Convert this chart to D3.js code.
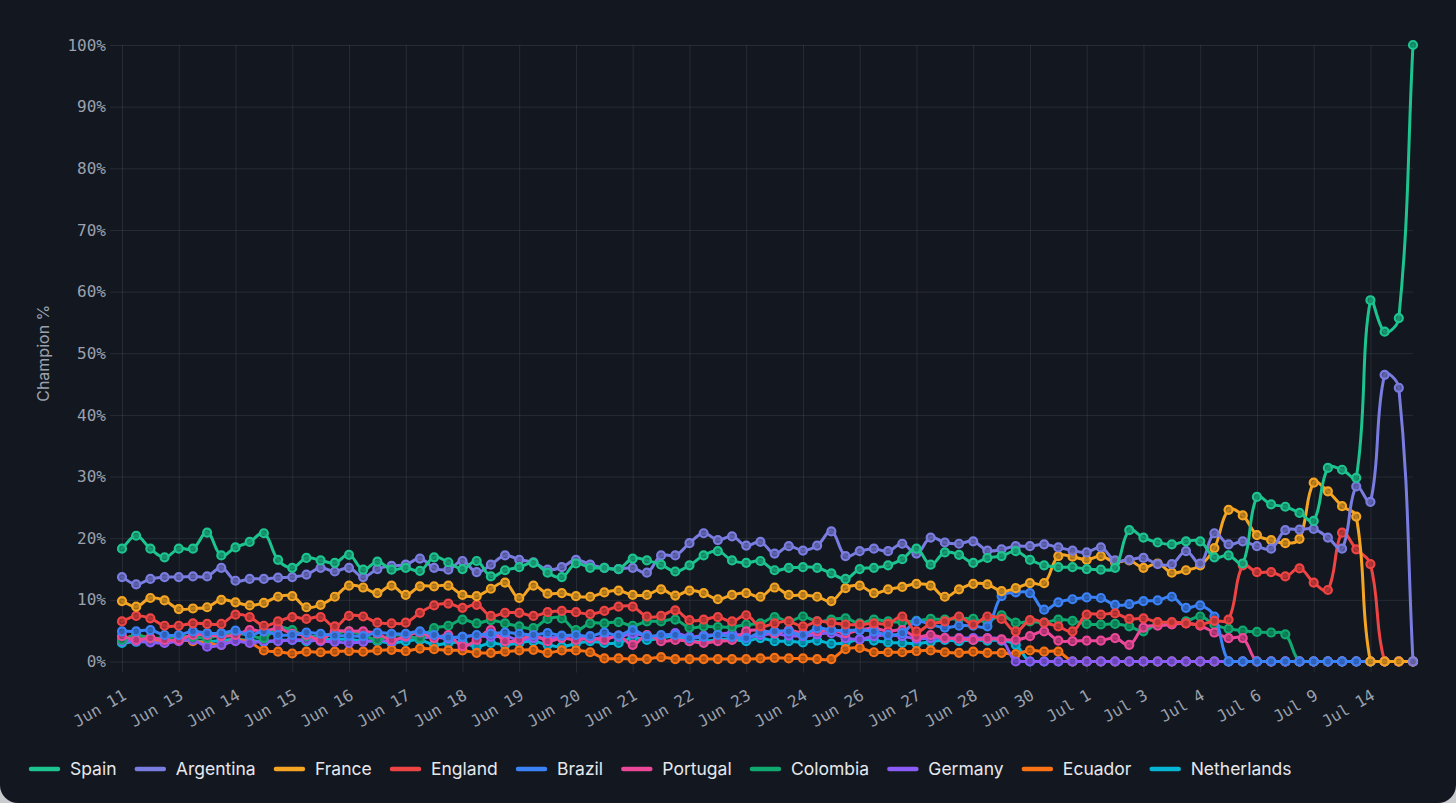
<!DOCTYPE html>
<html>
<head>
<meta charset="utf-8">
<script src="https://cdn.jsdelivr.net/npm/d3@7"></script>
<style>
  html, body { margin: 0; padding: 0; background: #c9cacd; }
  #panel { position: absolute; left: 0; top: 0; width: 1456px; height: 803px;
           background: #131720; border-radius: 0 0 18px 18px; overflow: hidden; }
  svg { display: block; }
</style>
</head>
<body>
<div id="panel"></div>
<script>
// ---------- data ----------
const tickLabels = ["Jun 11","Jun 13","Jun 14","Jun 15","Jun 16","Jun 17","Jun 18","Jun 19","Jun 20","Jun 21","Jun 22","Jun 23","Jun 24","Jun 26","Jun 27","Jun 28","Jun 30","Jul 1","Jul 3","Jul 4","Jul 6","Jul 9","Jul 14"];
const labelStep = 4; // a label every 4th snapshot
const yTicks = [0,10,20,30,40,50,60,70,80,90,100];

const spain = [18.3,20.4,18.3,16.9,18.3,18.3,20.9,17.2,18.5,19.4,
  20.8,16.5,15.2,16.8,16.4,16.0,17.3,14.9,16.2,14.9,
  15.2,14.7,16.9,16.1,15.0,16.3,13.8,14.8,15.3,16.0,
  14.4,13.7,15.9,15.2,15.2,15.0,16.7,16.4,15.7,14.6,
  15.6,17.2,17.9,16.4,16.0,16.3,14.8,15.2,15.3,15.2,
  14.3,13.4,15.0,15.2,15.6,16.6,18.3,15.7,17.7,17.3,
  16.0,16.8,17.1,17.9,16.5,15.6,15.3,15.3,15.0,14.9,
  15.2,21.3,20.1,19.3,19.0,19.5,19.5,16.9,17.2,15.9,
  26.7,25.5,25.1,24.1,22.8,31.4,31.1,29.8,58.6,53.5,
  55.7,100];
const argentina = [13.7,12.5,13.4,13.7,13.7,13.8,13.8,15.2,13.1,13.4,
  13.4,13.6,13.7,14.1,15.2,14.6,15.2,13.7,15.0,15.5,
  15.7,16.7,15.2,14.9,16.3,14.5,15.7,17.2,16.5,16.1,
  14.9,15.3,16.5,15.7,15.2,15.0,15.2,14.4,17.2,17.2,
  19.2,20.8,19.7,20.3,18.8,19.4,17.5,18.7,18.0,18.8,
  21.1,17.1,17.9,18.3,17.9,19.1,17.5,20.1,19.3,19.1,
  19.5,18.0,18.2,18.7,18.7,19.0,18.5,18.0,17.7,18.5,
  16.4,16.5,16.8,15.8,15.8,17.9,15.9,20.8,19.0,19.5,
  18.7,18.3,21.3,21.4,21.5,20.1,18.3,28.4,25.9,46.5,
  44.4,0];
const france = [9.8,8.9,10.3,9.9,8.5,8.6,8.8,10.0,9.6,9.1,
  9.5,10.5,10.6,8.8,9.2,10.5,12.3,12.0,11.1,12.3,
  10.8,12.2,12.2,12.3,10.8,10.6,11.8,12.8,10.3,12.3,
  11.0,11.1,10.6,10.5,11.2,11.5,10.8,10.8,11.7,10.7,
  11.5,11.1,10.1,10.8,11.1,10.5,12.0,10.8,10.8,10.5,
  9.8,11.9,12.3,11.1,11.7,12.1,12.6,12.3,10.5,11.7,
  12.6,12.5,11.4,11.9,12.7,12.7,17.1,17.0,16.5,17.1,
  16.1,16.4,15.2,15.9,14.4,14.8,15.6,18.4,24.6,23.7,
  20.5,19.7,19.2,19.9,29.0,27.6,25.2,23.5,0,0,
  0,0];
const england = [6.5,7.4,7.0,5.8,5.8,6.2,6.1,6.1,7.6,7.2,
  5.8,6.5,7.2,6.9,7.2,5.7,7.4,7.3,6.3,6.2,
  6.3,7.9,9.1,9.4,8.7,9.2,7.4,7.9,7.9,7.4,
  8.0,8.2,8.0,7.7,8.2,8.9,8.9,7.3,7.4,8.3,
  6.7,6.8,7.2,6.5,7.5,5.7,6.2,6.5,5.7,6.5,
  6.3,6.0,6.0,6.2,6.1,7.3,4.9,6.1,6.5,7.3,
  6.0,7.3,6.9,4.9,6.7,6.3,5.7,4.9,7.6,7.6,
  7.8,6.9,7.0,6.4,6.4,6.2,6.0,6.6,6.8,15.6,
  14.5,14.5,13.8,15.1,12.8,11.6,20.9,18.2,15.8,0,
  0,0];
const brazil = [4.9,4.9,5.1,4.3,4.3,4.9,4.6,4.6,5.0,4.3,
  4.9,4.3,4.3,4.7,4.5,4.2,4.2,4.1,4.7,4.5,
  4.5,4.9,4.3,3.9,4.0,4.3,4.5,4.7,4.5,4.3,
  4.6,4.2,4.3,4.1,4.7,4.2,5.1,4.1,4.3,4.3,
  3.8,4.0,4.3,4.0,3.8,4.7,4.9,4.9,4.3,5.4,
  5.1,5.0,5.1,4.9,4.3,4.6,6.5,6.0,5.5,5.8,
  5.8,5.7,10.6,11.2,11.1,8.4,9.6,10.1,10.4,10.3,
  9.2,9.3,9.8,9.9,10.5,8.7,9.1,7.3,0,0,
  0,0,0,0,0,0,0,0,0,0,
  0,0];
const portugal = [4.1,3.5,3.8,3.5,3.5,4.3,4.3,4.1,4.3,5.1,
  4.9,5.4,4.5,4.3,3.5,4.9,4.9,4.9,4.5,3.5,
  4.1,4.7,3.8,4.3,2.5,3.5,5.1,3.3,3.5,4.3,
  3.3,3.8,3.5,3.8,3.5,4.2,2.7,4.3,3.3,3.5,
  3.3,3.0,3.3,3.5,4.9,5.1,4.6,5.1,4.6,4.9,
  5.1,4.6,5.1,5.4,4.9,5.1,4.0,4.3,3.8,3.7,
  3.5,3.7,3.6,3.5,4.1,4.9,3.4,3.3,3.4,3.4,
  3.8,2.7,5.5,5.8,6.0,6.2,5.8,4.7,3.8,3.8,
  0,0,0,0,0,0,0,0,0,0,
  0,0];
const colombia = [3.5,4.2,3.8,3.8,4.1,4.0,3.8,4.3,4.5,4.3,
  3.8,5.5,5.1,4.1,4.2,4.5,4.9,4.3,3.5,4.3,
  4.2,3.8,5.4,5.8,6.8,6.2,6.7,6.2,5.7,5.4,
  6.9,7.0,5.1,6.2,6.2,6.4,5.8,6.5,6.5,6.8,
  5.5,5.7,5.6,5.6,6.0,6.2,7.2,6.5,7.3,6.5,
  6.8,7.0,6.2,6.8,6.5,6.4,6.6,6.9,6.8,7.0,
  6.9,6.5,7.5,6.3,6.5,6.3,6.8,6.6,6.1,6.0,
  6.1,5.7,4.9,6.1,6.2,6.5,7.3,6.0,5.3,5.0,
  4.8,4.7,4.4,0,0,0,0,0,0,0,
  0,0];
const germany = [3.3,3.3,3.1,3.0,3.3,3.5,2.4,2.7,3.3,3.0,
  3.3,3.3,3.5,3.5,3.3,3.2,3.0,3.2,3.5,3.3,
  4.0,3.8,4.0,3.7,4.0,4.2,4.0,4.1,3.5,3.8,
  3.8,4.0,4.2,3.7,3.9,4.0,4.5,4.2,4.0,4.6,
  4.0,4.2,4.4,4.6,4.0,4.3,4.5,4.2,4.1,4.4,
  4.6,3.8,3.6,4.1,4.3,4.1,3.7,3.8,3.8,3.8,
  3.8,3.8,3.5,0,0,0,0,0,0,0,
  0,0,0,0,0,0,0,0,0,0,
  0,0,0,0,0,0,0,0,0,0,
  0,0];
const ecuador = [3.6,4.2,3.8,3.1,3.5,3.3,3.0,2.7,3.5,3.1,
  1.8,1.6,1.3,1.6,1.5,1.6,1.7,1.6,1.8,1.9,
  1.7,2.1,2.0,1.8,1.8,1.4,1.4,1.6,1.8,1.9,
  1.4,1.8,1.8,1.5,0.5,0.5,0.4,0.4,0.7,0.4,
  0.4,0.4,0.4,0.4,0.4,0.5,0.6,0.5,0.5,0.4,
  0.4,2.0,2.2,1.5,1.5,1.5,1.7,1.8,1.5,1.4,
  1.6,1.4,1.4,1.2,1.8,1.6,1.6,0,0,0,
  0,0,0,0,0,0,0,0,0,0,
  0,0,0,0,0,0,0,0,0,0,
  0,0];
const netherlands = [3.0,3.2,3.2,3.4,3.5,3.4,3.2,3.4,3.6,3.4,
  3.2,3.4,3.5,3.3,3.5,3.6,3.6,3.3,3.3,3.0,
  3.3,3.5,2.7,3.0,3.1,2.4,3.0,2.7,3.0,3.3,
  2.7,2.4,2.9,3.3,3.0,3.0,3.9,3.5,3.8,4.1,
  3.3,3.3,3.5,3.6,3.3,3.8,3.3,3.3,3.1,3.4,
  2.9,3.0,3.6,3.4,3.1,3.0,2.9,3.2,3.5,3.3,
  3.5,3.4,3.4,2.7,0,0,0,0,0,0,
  0,0,0,0,0,0,0,0,0,0,
  0,0,0,0,0,0,0,0,0,0,
  0,0];

const teams  = ["Spain","Argentina","France","England","Brazil","Portugal","Colombia","Germany","Ecuador","Netherlands"];
const colors = ["#1dc490","#7a7de0","#f5a524","#ef4444","#3b82f6","#ec4899","#10a970","#8b5cf6","#f97316","#06b6d4"];
const values = [spain,argentina,france,england,brazil,portugal,colombia,germany,ecuador,netherlands];

// ---------- layout ----------
const W = 1456, H = 803;
const L = 122, R = 1413, T = 45, B = 661.5;
const svg = d3.select("#panel").append("svg").attr("width", W).attr("height", H);

const snapshots = spain.map((_, i) => i);
const x = d3.scalePoint().domain(snapshots).range([L, R]);
const y = d3.scaleLinear().domain([0, 100]).range([B, T]);

const monoFont = "'DejaVu Sans Mono', 'Liberation Mono', monospace";
const sansFont = "Inter, 'Noto Sans', sans-serif";
const gridColor = "rgba(255,255,255,0.085)";
const tickColor = "#9ba1ad";

// horizontal grid + y labels
const yAxis = d3.axisLeft(y).tickValues(yTicks).tickSize(-(R - L + 12)).tickFormat(d => d + "%").tickPadding(16);
const gy = svg.append("g").attr("transform", `translate(${L - 12},0)`).call(yAxis);
gy.select(".domain").remove();
gy.selectAll(".tick line").attr("stroke", gridColor).attr("stroke-width", 1);
gy.selectAll(".tick text").attr("fill", tickColor).attr("font-family", monoFont).attr("font-size", 16).attr("x", -4);

// vertical grid + x labels
const tickIdx = tickLabels.map((_, k) => snapshots[k * labelStep]);
const xAxis = d3.axisBottom(x).tickValues(tickIdx).tickSize(-(B - T + 11)).tickFormat((d, k) => tickLabels[k]);
const gx = svg.append("g").attr("transform", `translate(0,${B + 11})`).call(xAxis);
gx.select(".domain").remove();
gx.selectAll(".tick line").attr("stroke", gridColor).attr("stroke-width", 1);
gx.selectAll(".tick text")
  .attr("fill", tickColor).attr("font-family", monoFont).attr("font-size", 16)
  .attr("text-anchor", "end").attr("dy", null).attr("y", 0)
  .attr("transform", "translate(5,26) rotate(-30)");

// y axis title
svg.append("text")
  .attr("transform", `translate(49,${(T + B) / 2}) rotate(-90)`)
  .attr("text-anchor", "middle")
  .attr("fill", tickColor).attr("font-family", sansFont).attr("font-size", 16)
  .text("Champion %");

// Chart.js-like tension spline curve (tension 0.4, control points capped to the plot area)
function makeSplineCurve(tension, yTop, yBottom) {
  function Curve(context) { this._context = context; }
  Curve.prototype = {
    areaStart() {}, areaEnd() {},
    lineStart() { this._pts = []; },
    point(px, py) { this._pts.push([+px, +py]); },
    lineEnd() {
      const p = this._pts, n = p.length, ctx = this._context;
      if (!n) return;
      const cap = v => Math.max(yTop, Math.min(yBottom, v));
      const cps = p.map((cur, i) => {
        const prev = p[i - 1] || cur, next = p[i + 1] || cur;
        const d01 = Math.hypot(cur[0] - prev[0], cur[1] - prev[1]);
        const d12 = Math.hypot(next[0] - cur[0], next[1] - cur[1]);
        let s01 = d01 / (d01 + d12), s12 = d12 / (d01 + d12);
        if (!isFinite(s01)) s01 = 0;
        if (!isFinite(s12)) s12 = 0;
        const fa = tension * s01, fb = tension * s12;
        return {
          px: cur[0] - fa * (next[0] - prev[0]), py: cap(cur[1] - fa * (next[1] - prev[1])),
          nx: cur[0] + fb * (next[0] - prev[0]), ny: cap(cur[1] + fb * (next[1] - prev[1]))
        };
      });
      ctx.moveTo(p[0][0], p[0][1]);
      for (let i = 1; i < n; i++) {
        ctx.bezierCurveTo(cps[i - 1].nx, cps[i - 1].ny, cps[i].px, cps[i].py, p[i][0], p[i][1]);
      }
    }
  };
  return ctx => new Curve(ctx);
}
const curve = makeSplineCurve(0.4, T, B);
const line = d3.line().x((d, i) => x(i)).y(d => y(d)).curve(curve);

// draw series, first dataset on top
const plot = svg.append("g");
for (let s = teams.length - 1; s >= 0; s--) {
  const g = plot.append("g");
  g.append("path").datum(values[s])
    .attr("d", line).attr("fill", "none")
    .attr("stroke", colors[s]).attr("stroke-width", 3)
    .attr("stroke-linejoin", "round").attr("stroke-linecap", "round");
  g.selectAll("circle").data(values[s]).join("circle")
    .attr("cx", (d, i) => x(i)).attr("cy", d => y(d)).attr("r", 4)
    .attr("fill", d3.color(colors[s]).darker(0.9)).attr("fill-opacity", 0.85)
    .attr("stroke", colors[s]).attr("stroke-width", 2.2);
}

// legend
const legend = svg.append("g").attr("transform", "translate(29,769)");
let lx = 0;
teams.forEach((t, i) => {
  const item = legend.append("g").attr("transform", `translate(${lx},0)`);
  item.append("line").attr("x1", 2).attr("x2", 29).attr("y1", 0).attr("y2", 0)
    .attr("stroke", colors[i]).attr("stroke-width", 4.5).attr("stroke-linecap", "round");
  const txt = item.append("text").attr("x", 41).attr("y", 0).attr("dy", "0.35em")
    .attr("fill", "#e6e8ec").attr("font-family", sansFont).attr("font-size", 17.5).text(t);
  lx += 41 + txt.node().getComputedTextLength() + 18.3;
});
</script>
</body>
</html>
